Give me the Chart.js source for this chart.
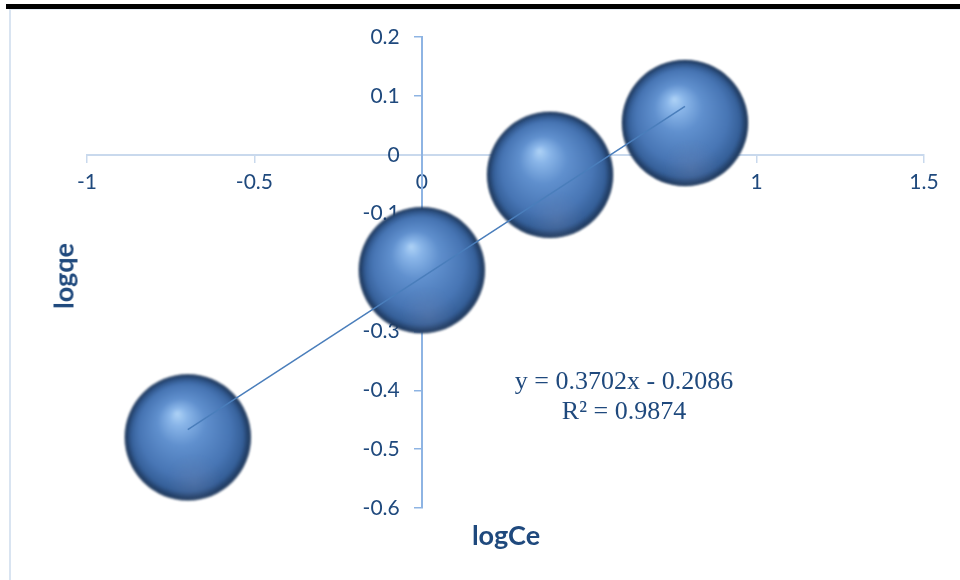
<!DOCTYPE html>
<html>
<head>
<meta charset="utf-8">
<script src="https://cdn.jsdelivr.net/npm/chart.js@4.4.0/dist/chart.umd.min.js"></script>
<style>
  html, body { margin: 0; padding: 0; background: #fff; }
  body { width: 960px; height: 580px; position: relative; overflow: hidden; font-family: Lato, sans-serif; }
  #bar { position: absolute; left: 6px; top: 4px; width: 954px; height: 5px; background: #000; }
  #frame { position: absolute; left: 9px; top: 9px; width: 951px; height: 571px;
           border-left: 2px solid #d9e4f1; border-top: 1px solid #e3ebf5; box-sizing: border-box; }
  #wrap { position: absolute; left: 0; top: 0; width: 960px; height: 580px; }
  .lbl { position: absolute; color: #1f497d; white-space: nowrap; }
  .axt { font-family: Lato, sans-serif; font-weight: bold; font-size: 27px; }
  .eq { font-family: "Liberation Serif", "Times New Roman", serif; font-size: 26px; text-align: center; width: 300px; }
</style>
</head>
<body>
<div id="bar"></div>
<div id="frame"></div>
<div id="wrap"><canvas id="chart" width="960" height="580"></canvas></div>
<div class="lbl axt" style="left:506px; top:534px; transform:translate(-50%,-50%);">logCe</div>
<div class="lbl axt" style="left:63px; top:276px; transform:translate(-50%,-50%) rotate(-90deg);">logqe</div>
<div class="lbl eq" style="left:474px; top:366px;">y = 0.3702x - 0.2086</div>
<div class="lbl eq" style="left:474px; top:396px;">R² = 0.9874</div>
<script>
// data
const logCe = [-0.699, 0, 0.383, 0.786];
const logQe = [-0.48, -0.196, -0.034, 0.054];
// linear trendline end points
const trendX = [-0.699, 0.786];
const trendY = [-0.467, 0.082];

const xTicks = [-1, -0.5, 0, 0.5, 1, 1.5];
const yTicks = [0.2, 0.1, 0, -0.1, -0.2, -0.3, -0.4, -0.5, -0.6];

const TEXT = "#1f497d";

// shaded sphere used as point style
function makeSphere(r) {
  const s = r * 2 + 6;
  const c = document.createElement("canvas");
  c.width = c.height = s;
  const g = c.getContext("2d");
  const cx = s / 2, cy = s / 2;
  g.filter = "blur(1.2px)";
  let grad = g.createRadialGradient(cx - 0.17 * r, cy - 0.38 * r, 0, cx, cy, r);
  grad.addColorStop(0, "#b0d4f7");
  grad.addColorStop(0.14, "#8ab6e9");
  grad.addColorStop(0.38, "#6090ce");
  grad.addColorStop(0.72, "#4876b5");
  grad.addColorStop(0.9, "#355f98");
  grad.addColorStop(1, "#223f66");
  g.beginPath();
  g.arc(cx, cy, r, 0, Math.PI * 2);
  g.fillStyle = grad;
  g.fill();
  // dark rim
  grad = g.createRadialGradient(cx, cy, 0, cx, cy, r);
  grad.addColorStop(0, "rgba(15,30,55,0)");
  grad.addColorStop(0.87, "rgba(15,30,55,0)");
  grad.addColorStop(1, "rgba(15,30,55,0.32)");
  g.fillStyle = grad;
  g.fill();
  // faint reflection at the bottom
  grad = g.createRadialGradient(cx + 0.1 * r, cy + 0.72 * r, 0, cx + 0.1 * r, cy + 0.72 * r, 0.45 * r);
  grad.addColorStop(0, "rgba(130,140,175,0.22)");
  grad.addColorStop(1, "rgba(130,140,175,0)");
  g.fillStyle = grad;
  g.fill();
  return c;
}

const sphere = makeSphere(63);
const fmt = (v) => String(v);
// keep the axes from pushing the plot area around
const noPad = (s) => { s.paddingTop = 0; s.paddingBottom = 0; s.paddingLeft = 0; s.paddingRight = 0; };

const ctx = document.getElementById("chart").getContext("2d");
new Chart(ctx, {
  type: "scatter",
  data: {
    datasets: [
      {
        type: "line",
        label: "trend",
        data: trendX.map((x, i) => ({ x: x, y: trendY[i] })),
        borderColor: "#4a7ebb",
        borderWidth: 1.5,
        pointRadius: 0,
        fill: false,
        order: 0,
      },
      {
        label: "logqe",
        data: logCe.map((x, i) => ({ x: x, y: logQe[i] })),
        pointStyle: sphere,
        pointRadius: 63,
        order: 1,
        clip: false,
      },
    ],
  },
  options: {
    responsive: false,
    animation: false,
    layout: { autoPadding: false, padding: { left: 87, right: 36, top: 37, bottom: 72 } },
    plugins: {
      legend: { display: false },
      tooltip: { enabled: false },
    },
    scales: {
      x: {
        type: "linear",
        min: -1,
        max: 1.5,
        position: { y: 0 },
        afterBuildTicks: (s) => { s.ticks = xTicks.map(v => ({ value: v })); },
        afterFit: noPad,
        ticks: { color: TEXT, font: { family: "Lato", size: 21 }, padding: 8, maxRotation: 0, callback: fmt },
        grid: { drawOnChartArea: false, drawTicks: true, tickLength: 7, color: "#c9d9ed", lineWidth: 1.5 },
        border: { color: "#c9d9ed", width: 2 },
      },
      y: {
        type: "linear",
        min: -0.6,
        max: 0.2,
        position: { x: 0 },
        afterBuildTicks: (s) => { s.ticks = yTicks.map(v => ({ value: v })); },
        afterFit: noPad,
        ticks: { display: false },
        grid: { drawOnChartArea: false, drawTicks: true, tickLength: 7, color: "#8eb4e3", lineWidth: 1.5 },
        border: { color: "#8eb4e3", width: 2 },
      },
      // label-only copy of the y axis, set a little left of x = 0
      yLabels: {
        type: "linear",
        axis: "y",
        min: -0.6,
        max: 0.2,
        position: { x: -0.066 },
        afterBuildTicks: (s) => { s.ticks = yTicks.map(v => ({ value: v })); },
        afterFit: noPad,
        ticks: { color: TEXT, font: { family: "Lato", size: 21 }, callback: fmt },
        grid: { display: false },
        border: { display: false },
      },
    },
  },
});
</script>
</body>
</html>
